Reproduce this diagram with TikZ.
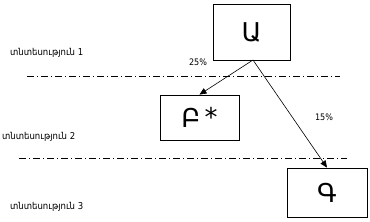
\documentclass[tikz,border=0pt]{standalone}
\usepackage{fontspec}
\setmainfont{DejaVu Sans}
\newfontfamily\narrowfont{DejaVu Sans Condensed}
\usetikzlibrary{arrows.meta}

\begin{document}
\begin{tikzpicture}[x=1bp, y=-1bp,
    firm/.style={draw, line width=0.8bp, minimum width=77bp, minimum height=56bp, font=\fontsize{26}{28}\selectfont, inner sep=0pt},
    level/.style={anchor=west, font=\narrowfont\fontsize{9.5}{10}\selectfont, inner sep=0pt},
    share/.style={font=\narrowfont\fontsize{9}{10}\selectfont, inner sep=0pt},
    border/.style={dash pattern=on 7bp off 3bp on 1bp off 3bp, line width=0.6bp},
    arr/.style={-{Triangle[length=7bp, width=6bp]}, line width=0.6bp}
]
\useasboundingbox (0,0) rectangle (370,222);

\node[firm] (a) at (251.5, 32) {Ա};
\node[firm, minimum width=79bp, minimum height=45bp] (b) at (199.5, 117.5) {Բ\,\raisebox{1.5bp}{*}};
\node[firm, minimum width=80bp, minimum height=49bp] (g) at (327, 192.5) {Գ};

\node[level] (l1) at (10, 53)  {տնտեսություն 1};
\node[level] (l2) at (2, 137)  {տնտեսություն 2};
\node[level] (l3) at (10, 207) {տնտեսություն 3};

\coordinate (c1a) at (27, 76);
\coordinate (c1b) at (340, 76);
\coordinate (c2a) at (19, 158);
\coordinate (c2b) at (347, 158);
\draw[border] (c1a) -- (c1b);
\draw[border] (c2a) -- (c2b);

\coordinate (fork) at (253, 60);
\draw[arr] (fork) -- (b.north);
\draw[arr] (fork) -- (g.north);

\node[share] (p1) at (198, 62)  {25\%};
\node[share] (p2) at (324, 117) {15\%};
\end{tikzpicture}
\end{document}
